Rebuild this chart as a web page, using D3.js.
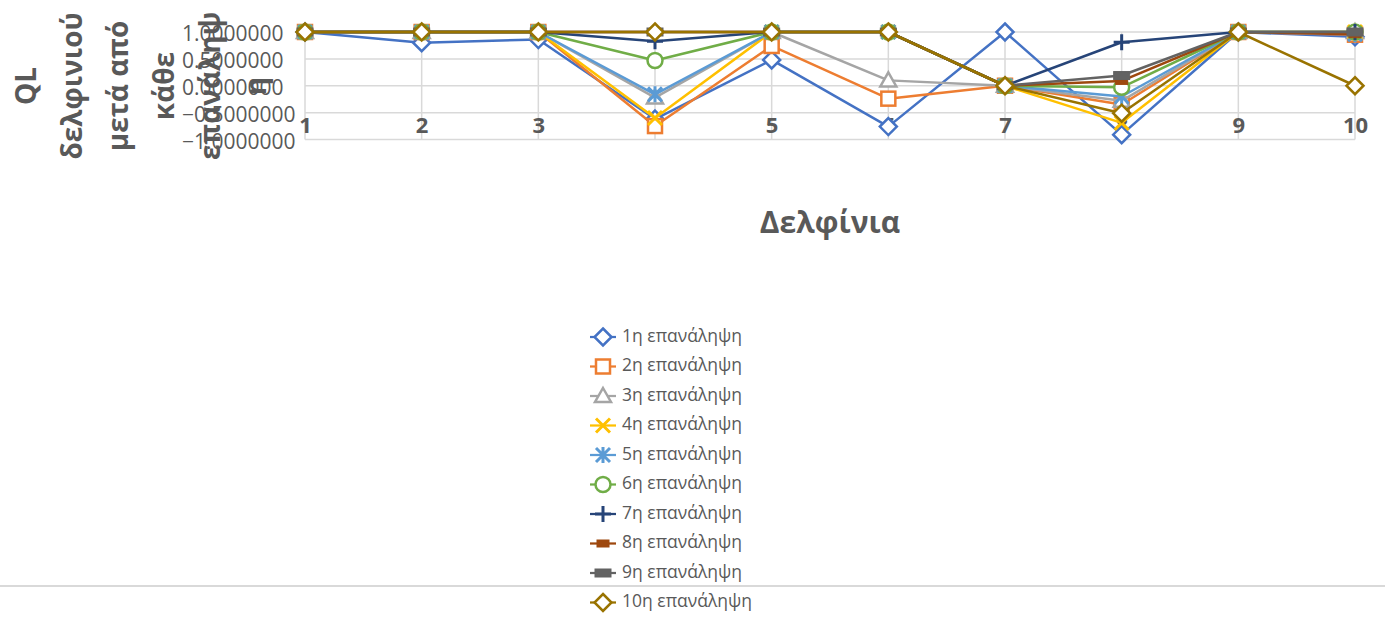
<!DOCTYPE html>
<html>
<head>
<meta charset="utf-8">
<script src="https://cdn.jsdelivr.net/npm/d3@7"></script>
<style>
  html, body { margin: 0; padding: 0; background: #fff; }
  svg { display: block; font-family: "Open Sans", "Noto Sans", sans-serif; }
</style>
</head>
<body>
<svg id="chart" width="1385" height="618"></svg>
<script>
// Dolphins (x categories)
const dolphins = [1, 2, 3, 4, 5, 6, 7, 8, 9, 10];

// QL value of each dolphin after each repetition
const rep1  = [1, 0.80, 0.86, -0.62, 0.48, -0.76, 1, -0.91, 1, 0.91];
const rep2  = [1, 1, 1, -0.75, 0.74, -0.24, 0, -0.35, 1, 0.95];
const rep3  = [1, 1, 1, -0.22, 1, 0.10, 0, -0.28, 1, 1];
const rep4  = [1, 1, 1, -0.60, 1, 1, 0, -0.69, 1, 1];
const rep5  = [1, 1, 1, -0.16, 1, 1, 0, -0.20, 1, 0.96];
const rep6  = [1, 1, 1, 0.47, 1, 1, 0, -0.03, 1, 1];
const rep7  = [1, 1, 1, 0.83, 1, 1, 0, 0.81, 1, 1];
const rep8  = [1, 1, 1, 1, 1, 1, 0, 0.09, 1, 0.96];
const rep9  = [1, 1, 1, 1, 1, 1, 0, 0.19, 1, 1];
const rep10 = [1, 1, 1, 1, 1, 1, 0, -0.51, 1, 0];

const seriesNames = ["1η επανάληψη", "2η επανάληψη", "3η επανάληψη", "4η επανάληψη", "5η επανάληψη",
                     "6η επανάληψη", "7η επανάληψη", "8η επανάληψη", "9η επανάληψη", "10η επανάληψη"];
const yTicks = [1, 0.5, 0, -0.5, -1];
const yTitleLines = ["QL", "δελφινιού", "μετά από", "κάθε", "επανάληψ", "η"];
const xTitle = "Δελφίνια";

const seriesValues = [rep1, rep2, rep3, rep4, rep5, rep6, rep7, rep8, rep9, rep10];
const colors = ["#4472C4", "#ED7D31", "#A5A5A5", "#FFC000", "#5B9BD5",
                "#70AD47", "#264478", "#9E480E", "#636363", "#997300"];
const markers = ["diamond", "square", "triangle", "x", "star", "circle", "plus", "dash", "dashWide", "diamond"];

const svg = d3.select("#chart");
const grey = "#595959";
const gridColor = "#d9d9d9";

const x = d3.scaleLinear().domain([1, 10]).range([305, 1355]);
const y = d3.scaleLinear().domain([-1, 1]).range([139.5, 32]);

// gridlines
const grid = svg.append("g");
grid.selectAll("line.h").data(yTicks).join("line")
  .attr("x1", x(1)).attr("x2", x(10))
  .attr("y1", d => y(d)).attr("y2", d => y(d))
  .attr("stroke", gridColor).attr("stroke-width", 1.5);
grid.selectAll("line.v").data(dolphins).join("line")
  .attr("x1", d => x(d)).attr("x2", d => x(d))
  .attr("y1", y(1)).attr("y2", y(-1))
  .attr("stroke", gridColor).attr("stroke-width", 1.5);

// y axis labels
const yAxis = d3.axisLeft(y).tickValues(yTicks).tickFormat(d3.format(".7f")).tickSize(0).tickPadding(0);
const yg = svg.append("g").attr("transform", "translate(182,2)").call(yAxis);
yg.select(".domain").remove();
yg.selectAll("text").attr("text-anchor", "start").attr("x", 0)
  .attr("fill", grey).style("font-size", "21px").style("font-family", "'Open Sans', sans-serif");

// x axis labels
const xAxis = d3.axisBottom(x).tickValues(dolphins).tickFormat(d3.format("d")).tickSize(0).tickPadding(0);
const xg = svg.append("g").attr("transform", `translate(0,${y(-0.5)})`).call(xAxis);
xg.select(".domain").remove();
xg.selectAll("text").attr("y", 0).attr("dy", "0").attr("transform", "translate(0,14)")
  .attr("dominant-baseline", "middle")
  .attr("fill", grey).style("font-size", "22px").style("font-weight", "bold")
  .style("font-family", "'Open Sans', sans-serif");

// axis titles
const yTitle = svg.append("text")
  .attr("transform", "translate(0,86) rotate(-90)")
  .attr("text-anchor", "middle")
  .attr("fill", grey).style("font-size", "28px").style("font-weight", "bold");
yTitleLines.forEach((t, i) => {
  yTitle.append("tspan").attr("x", 0).attr("y", 36 + i * 46).text(t);
});

svg.append("text").attr("x", 830).attr("y", 225)
  .attr("text-anchor", "middle").attr("dominant-baseline", "middle")
  .attr("fill", grey).style("font-size", "30px").style("font-weight", "bold")
  .text(xTitle);

// marker drawing
function drawMarker(g, type, color, cx, cy) {
  const sw = 2.5;
  switch (type) {
    case "diamond":
      g.append("path").attr("d", `M${cx},${cy - 8.5}L${cx + 8.5},${cy}L${cx},${cy + 8.5}L${cx - 8.5},${cy}Z`)
        .attr("fill", "#fff").attr("stroke", color).attr("stroke-width", sw);
      break;
    case "square":
      g.append("rect").attr("x", cx - 7).attr("y", cy - 7).attr("width", 14).attr("height", 14)
        .attr("fill", "#fff").attr("stroke", color).attr("stroke-width", sw);
      break;
    case "triangle":
      g.append("path").attr("d", `M${cx},${cy - 8}L${cx + 8},${cy + 6}L${cx - 8},${cy + 6}Z`)
        .attr("fill", "#fff").attr("stroke", color).attr("stroke-width", sw);
      break;
    case "x":
      g.append("path").attr("d", `M${cx - 7},${cy - 7}L${cx + 7},${cy + 7}M${cx + 7},${cy - 7}L${cx - 7},${cy + 7}`)
        .attr("fill", "none").attr("stroke", color).attr("stroke-width", sw + 0.5);
      break;
    case "star":
      g.append("path").attr("d", `M${cx - 7},${cy - 7}L${cx + 7},${cy + 7}M${cx + 7},${cy - 7}L${cx - 7},${cy + 7}M${cx},${cy - 8}L${cx},${cy + 8}`)
        .attr("fill", "none").attr("stroke", color).attr("stroke-width", sw + 0.5);
      break;
    case "circle":
      g.append("circle").attr("cx", cx).attr("cy", cy).attr("r", 7.5)
        .attr("fill", "#fff").attr("stroke", color).attr("stroke-width", sw);
      break;
    case "plus":
      g.append("path").attr("d", `M${cx - 8},${cy}L${cx + 8},${cy}M${cx},${cy - 8}L${cx},${cy + 8}`)
        .attr("fill", "none").attr("stroke", color).attr("stroke-width", sw + 0.5);
      break;
    case "dash":
      g.append("rect").attr("x", cx - 6).attr("y", cy - 3.5).attr("width", 12).attr("height", 7)
        .attr("fill", color).attr("stroke", color).attr("stroke-width", 1);
      break;
    case "dashWide":
      g.append("rect").attr("x", cx - 8).attr("y", cy - 4).attr("width", 16).attr("height", 8)
        .attr("fill", color).attr("stroke", color).attr("stroke-width", 1);
      break;
  }
}

// series lines and markers
const line = d3.line().x((d, i) => x(dolphins[i])).y(d => y(d));
seriesValues.forEach((vals, s) => {
  const g = svg.append("g");
  g.append("path").datum(vals).attr("d", line)
    .attr("fill", "none").attr("stroke", colors[s]).attr("stroke-width", 2.5)
    .attr("stroke-linejoin", "round");
  vals.forEach((v, i) => drawMarker(g, markers[s], colors[s], x(dolphins[i]), y(v)));
});

// horizontal separator line
svg.append("line").attr("x1", 0).attr("x2", 1385).attr("y1", 586).attr("y2", 586)
  .attr("stroke", gridColor).attr("stroke-width", 2);

// legend
const legend = svg.append("g");
seriesNames.forEach((name, i) => {
  const ly = 337 + i * 29.5;
  const g = legend.append("g");
  g.append("line").attr("x1", 590).attr("x2", 616).attr("y1", ly).attr("y2", ly)
    .attr("stroke", colors[i]).attr("stroke-width", 2.25);
  drawMarker(g, markers[i], colors[i], 603, ly);
  g.append("text").attr("x", 622).attr("y", ly).attr("dominant-baseline", "middle")
    .attr("fill", grey).style("font-size", "17.5px").text(name);
});
</script>
</body>
</html>
